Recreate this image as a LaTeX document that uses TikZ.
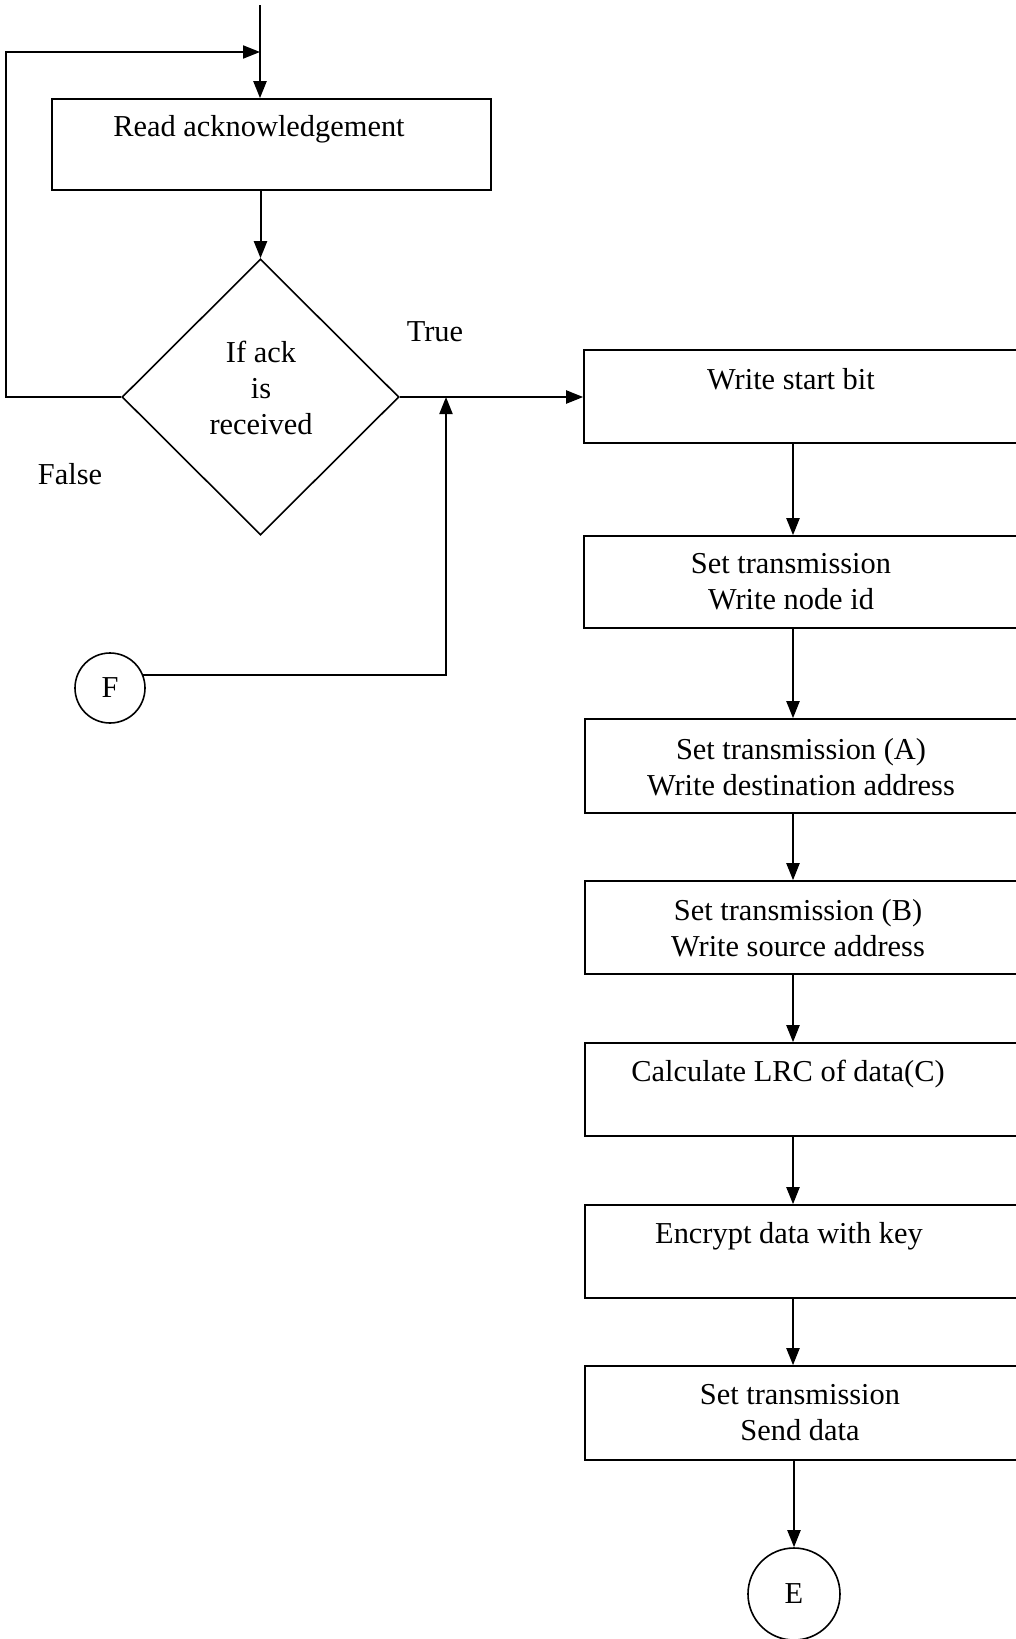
\documentclass[tikz,border=0pt]{standalone}
\usepackage{fontspec}
\setmainfont{Liberation Serif}
\usetikzlibrary{arrows.meta,shapes.geometric,fit}
\begin{document}
\begin{tikzpicture}[x=0.5pt,y=-0.5pt,
  box/.style={draw, line width=0.8pt, inner sep=0pt},
  txt/.style={font=\fontsize{15.2}{18}\selectfont, align=center, inner sep=0pt},
  conn/.style={line width=1pt},
  arr/.style={conn, -{Triangle[length=8.5pt,width=6.5pt]}},
  connector/.style={circle, draw, line width=0.8pt, inner sep=0pt, font=\fontsize{15.2}{18}\selectfont}]
\useasboundingbox (0,0) rectangle (1016,1639);
\clip (0,0) rectangle (1016,1639);

% left column: acknowledgement loop
\node[box, fit={(52,99) (491,190)}] (ack) {};
\node[txt] (ackT) at (259,129) {Read acknowledgement};
\node[diamond, draw, line width=0.8pt, minimum width=138.5pt, minimum height=138pt, inner sep=0pt] (dec) at (260.5,397) {};
\node[txt] (decT) at (261,388) {If ack\\is\\received};
\node[txt] (trueT) at (435,332) {True};
\node[txt] (falseT) at (70,474) {False};
\node[connector, minimum size=35pt] (F) at (110,688) {F};

% right column: transmission steps
\node[box, fit={(584,350) (1040,443)}] (start) {};
\node[txt] (startT) at (791,379) {Write start bit};
\node[box, fit={(584,536) (1040,628)}] (nodeid) {};
\node[txt] (nodeidT) at (791,582) {Set transmission\\Write node id};
\node[box, fit={(585,719) (1040,813)}] (dest) {};
\node[txt] (destT) at (801,767) {Set transmission (A)\\Write destination address};
\node[box, fit={(585,881) (1040,974)}] (src) {};
\node[txt] (srcT) at (798,928) {Set transmission (B)\\Write source address};
\node[box, fit={(585,1043) (1040,1136)}] (lrc) {};
\node[txt] (lrcT) at (788,1074) {Calculate LRC of data(C)};
\node[box, fit={(585,1205) (1040,1298)}] (enc) {};
\node[txt] (encT) at (789,1236) {Encrypt data with key};
\node[box, fit={(585,1366) (1040,1460)}] (send) {};
\node[txt] (sendT) at (800,1413) {Set transmission\\Send data};
\node[connector, minimum size=46pt] (E) at (794,1594) {E};

% connectors
\coordinate (entry) at (260,5);
\coordinate (loopcorner) at (6,52);
\coordinate (merge) at (446,397);
\coordinate (spine) at (793,0);
\draw[arr] (entry) -- (entry |- ack.north);
\draw[arr] (dec.west) -| (loopcorner) -- (loopcorner -| entry);
\draw[arr] (dec.north |- ack.south) -- (dec.north);
\draw[arr] (dec.east) -- (dec.east -| start.west);
\draw[arr] (F.22) -| (merge);
\draw[arr] (start.south -| spine) -- (nodeid.north -| spine);
\draw[arr] (nodeid.south -| spine) -- (dest.north -| spine);
\draw[arr] (dest.south -| spine) -- (src.north -| spine);
\draw[arr] (src.south -| spine) -- (lrc.north -| spine);
\draw[arr] (lrc.south -| spine) -- (enc.north -| spine);
\draw[arr] (enc.south -| spine) -- (send.north -| spine);
\draw[arr] (send.south -| E) -- (E.north);
\end{tikzpicture}
\end{document}
